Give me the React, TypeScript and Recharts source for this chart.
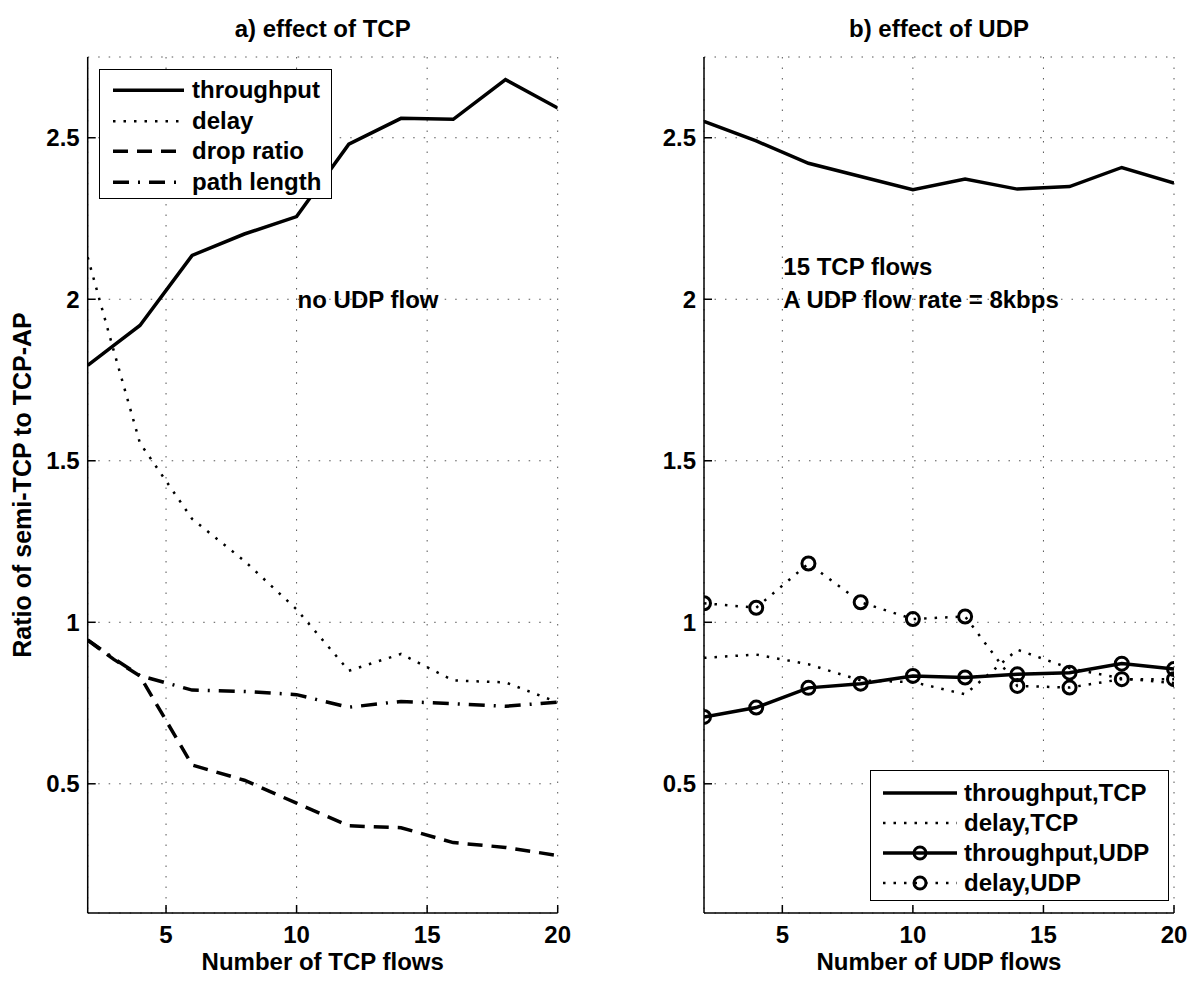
import React from 'react';
import { CartesianGrid, Legend, Line, LineChart, ReferenceDot, XAxis, YAxis } from 'recharts';

// panel a) – number of TCP flows on x
const tcpFlows = [2, 3, 4, 6, 8, 10, 12, 14, 16, 18, 20];
const tcpThroughput = [1.795, 1.857, 1.919, 2.136, 2.202, 2.256, 2.48, 2.56, 2.557, 2.68, 2.592];
const tcpDelay = [2.13, 1.84, 1.555, 1.32, 1.19, 1.04, 0.85, 0.902, 0.82, 0.814, 0.752];
const tcpDropRatio = [0.945, 0.885, 0.834, 0.558, 0.511, 0.44, 0.37, 0.364, 0.318, 0.303, 0.278];
const tcpPathLength = [0.945, 0.888, 0.835, 0.79, 0.786, 0.776, 0.737, 0.755, 0.748, 0.74, 0.753];

// panel b) – number of UDP flows on x (15 TCP flows)
const udpFlows = [2, 4, 6, 8, 10, 12, 14, 16, 18, 20];
const udpThroughputTcp = [2.551, 2.49, 2.421, 2.38, 2.339, 2.372, 2.341, 2.349, 2.408, 2.36];
const udpDelayTcp = [0.89, 0.9, 0.87, 0.82, 0.815, 0.777, 0.915, 0.858, 0.826, 0.812];
const udpThroughputUdp = [0.707, 0.736, 0.797, 0.81, 0.834, 0.829, 0.839, 0.844, 0.872, 0.855];
const udpDelayUdp = [1.059, 1.045, 1.182, 1.062, 1.01, 1.018, 0.803, 0.798, 0.824, 0.824];

const xTicks = [5, 10, 15, 20];
const yTicks = [0.5, 1, 1.5, 2, 2.5];
const xDomain = [2, 20];
const yDomain = [0.1, 2.75];

const FONT = "'Liberation Sans', Arial, Helvetica, sans-serif";
const textStyle = { fill: '#000', fontSize: 24, fontWeight: 'bold', fontFamily: FONT };
const axisLine = { stroke: '#000', strokeWidth: 1.5 };

const SOLID = '';
const DOTTED = '2.5 8';
const DASHED = '15 9';
const DASHDOT = '16 9 2 9';

const toPoints = (xs: number[], ys: number[]) => xs.map((x, i) => ({ x, y: ys[i] }));

const ringDot = (props: any) => (
  <circle
    key={`ring-${props.index}`}
    cx={props.cx}
    cy={props.cy}
    r={6.5}
    fill="none"
    stroke="#000"
    strokeWidth={3}
  />
);

type Item = { label: string; dash: string; width: number; ring?: boolean };

const LegendBox = ({ items, width, height, padTop, row, sampleLeft, sampleWidth, gap }: any) => (
  <div
    style={{
      width,
      height,
      boxSizing: 'border-box',
      border: '1.5px solid #000',
      background: '#fff',
      paddingTop: padTop,
      fontFamily: FONT,
      fontWeight: 'bold',
      fontSize: 24,
      color: '#000',
    }}
  >
    {items.map((it: Item) => (
      <div key={it.label} style={{ display: 'flex', alignItems: 'center', height: row }}>
        <svg width={sampleLeft + sampleWidth} height={row} style={{ flex: 'none' }}>
          <line
            x1={sampleLeft}
            x2={sampleLeft + sampleWidth}
            y1={row / 2}
            y2={row / 2}
            stroke="#000"
            strokeWidth={it.width}
            strokeDasharray={it.dash || undefined}
          />
          {it.ring && (
            <circle cx={sampleLeft + sampleWidth / 2} cy={row / 2} r={6} fill="none" stroke="#000" strokeWidth={3} />
          )}
        </svg>
        <span style={{ marginLeft: gap, whiteSpace: 'nowrap', lineHeight: `${row}px` }}>{it.label}</span>
      </div>
    ))}
  </div>
);

const tcpItems: Item[] = [
  { label: 'throughput', dash: SOLID, width: 3.5 },
  { label: 'delay', dash: DOTTED, width: 2.5 },
  { label: 'drop ratio', dash: DASHED, width: 3.5 },
  { label: 'path length', dash: DASHDOT, width: 3.5 },
];

const udpItems: Item[] = [
  { label: 'throughput,TCP', dash: SOLID, width: 3.5 },
  { label: 'delay,TCP', dash: DOTTED, width: 2.5 },
  { label: 'throughput,UDP', dash: SOLID, width: 3.5, ring: true },
  { label: 'delay,UDP', dash: DOTTED, width: 2.5, ring: true },
];

const yLabel = (props: any) => {
  const vb = props.viewBox || { x: 0, y: 57, height: 856 };
  const cx = vb.x + 22;
  const cy = vb.y + vb.height / 2;
  return (
    <text
      x={cx}
      y={cy}
      transform={`rotate(-90 ${cx} ${cy})`}
      textAnchor="middle"
      dominantBaseline="central"
      style={{ ...(textStyle as any), fontSize: 25 }}
    >
      Ratio of semi-TCP to TCP-AP
    </text>
  );
};

const Title = ({ text, left, width }: { text: string; left: number; width: number }) => (
  <div
    style={{
      position: 'absolute',
      left,
      top: 16.7,
      width,
      textAlign: 'center',
      fontFamily: FONT,
      fontWeight: 'bold',
      fontSize: 24,
      lineHeight: '24px',
      color: '#000',
      whiteSpace: 'nowrap',
    }}
  >
    {text}
  </div>
);

const Frame = (xTitle: string, showYTitle: boolean) => [
  <CartesianGrid key="grid" stroke="#555" strokeWidth={1} strokeDasharray="1.5 9" />,
  <XAxis
    key="xb"
    xAxisId={0}
    type="number"
    dataKey="x"
    domain={xDomain}
    ticks={xTicks}
    allowDataOverflow
    height={71}
    tickSize={-8}
    tickMargin={21}
    axisLine={axisLine}
    tickLine={axisLine}
    tick={textStyle}
    label={{ value: xTitle, position: 'insideBottom', offset: 14, ...textStyle }}
  />,
  <XAxis
    key="xt"
    xAxisId="top"
    orientation="top"
    type="number"
    dataKey="x"
    domain={xDomain}
    ticks={xTicks}
    allowDataOverflow
    height={0}
    tickSize={-8}
    tick={false}
    axisLine={axisLine}
    tickLine={axisLine}
  />,
  <YAxis
    key="yl"
    yAxisId={0}
    type="number"
    domain={yDomain}
    ticks={yTicks}
    allowDataOverflow
    width={showYTitle ? 87.7 : 104}
    tickSize={-8}
    tickMargin={16}
    axisLine={axisLine}
    tickLine={axisLine}
    tick={textStyle}
    label={showYTitle ? { content: yLabel } : undefined}
  />,
  <YAxis
    key="yr"
    yAxisId="right"
    orientation="right"
    type="number"
    domain={yDomain}
    ticks={yTicks}
    allowDataOverflow
    width={0}
    tickSize={-8}
    tick={false}
    axisLine={axisLine}
    tickLine={axisLine}
  />,
];

export default function App() {
  return (
    <div style={{ position: 'absolute', left: 0, top: 0, width: 1200, height: 984, background: '#fff', fontFamily: FONT }}>
      <div style={{ position: 'absolute', left: 0, top: 0 }}>
        <LineChart width={600} height={984} margin={{ top: 57, right: 42.3, bottom: 0, left: 0 }}>
          {Frame('Number of TCP flows', true)}
          <Line data={toPoints(tcpFlows, tcpThroughput)} dataKey="y" name="throughput" type="linear" stroke="#000" strokeWidth={3.5} dot={false} isAnimationActive={false} />
          <Line data={toPoints(tcpFlows, tcpDelay)} dataKey="y" name="delay" type="linear" stroke="#000" strokeWidth={2.5} strokeDasharray={DOTTED} dot={false} isAnimationActive={false} />
          <Line data={toPoints(tcpFlows, tcpDropRatio)} dataKey="y" name="drop ratio" type="linear" stroke="#000" strokeWidth={3.5} strokeDasharray={DASHED} dot={false} isAnimationActive={false} />
          <Line data={toPoints(tcpFlows, tcpPathLength)} dataKey="y" name="path length" type="linear" stroke="#000" strokeWidth={3.5} strokeDasharray={DASHDOT} dot={false} isAnimationActive={false} />
          <ReferenceDot x={10} y={2} r={1} fill="none" stroke="none" label={{ value: 'no UDP flow', position: 'right', offset: 0, ...textStyle }} />
          <Legend
            layout="vertical"
            align="center"
            verticalAlign="middle"
            wrapperStyle={{ left: 99, top: 69, width: 233, height: 130 }}
            content={() => (
              <LegendBox items={tcpItems} width={233} height={130} padTop={5} row={30.5} sampleLeft={13} sampleWidth={71} gap={8} />
            )}
          />
        </LineChart>
      </div>
      <div style={{ position: 'absolute', left: 600, top: 0 }}>
        <LineChart width={600} height={984} margin={{ top: 57, right: 26, bottom: 0, left: 0 }}>
          {Frame('Number of UDP flows', false)}
          <Line data={toPoints(udpFlows, udpThroughputTcp)} dataKey="y" name="throughput,TCP" type="linear" stroke="#000" strokeWidth={3.5} dot={false} isAnimationActive={false} />
          <Line data={toPoints(udpFlows, udpDelayTcp)} dataKey="y" name="delay,TCP" type="linear" stroke="#000" strokeWidth={2.5} strokeDasharray={DOTTED} dot={false} isAnimationActive={false} />
          <Line data={toPoints(udpFlows, udpThroughputUdp)} dataKey="y" name="throughput,UDP" type="linear" stroke="#000" strokeWidth={3.5} dot={ringDot} isAnimationActive={false} />
          <Line data={toPoints(udpFlows, udpDelayUdp)} dataKey="y" name="delay,UDP" type="linear" stroke="#000" strokeWidth={2.5} strokeDasharray={DOTTED} dot={ringDot} isAnimationActive={false} />
          <ReferenceDot x={5} y={2.1} r={1} fill="none" stroke="none" label={{ value: '15 TCP flows', position: 'right', offset: 0, ...textStyle }} />
          <ReferenceDot x={5} y={2} r={1} fill="none" stroke="none" label={{ value: 'A UDP flow rate = 8kbps', position: 'right', offset: 0, ...textStyle }} />
          <Legend
            layout="vertical"
            align="center"
            verticalAlign="middle"
            wrapperStyle={{ left: 270, top: 770, width: 299, height: 131 }}
            content={() => (
              <LegendBox items={udpItems} width={299} height={131} padTop={7} row={30} sampleLeft={12} sampleWidth={74} gap={7} />
            )}
          />
        </LineChart>
      </div>
      <Title text="a) effect of TCP" left={87.7} width={470} />
      <Title text="b) effect of UDP" left={704} width={470} />
    </div>
  );
}
